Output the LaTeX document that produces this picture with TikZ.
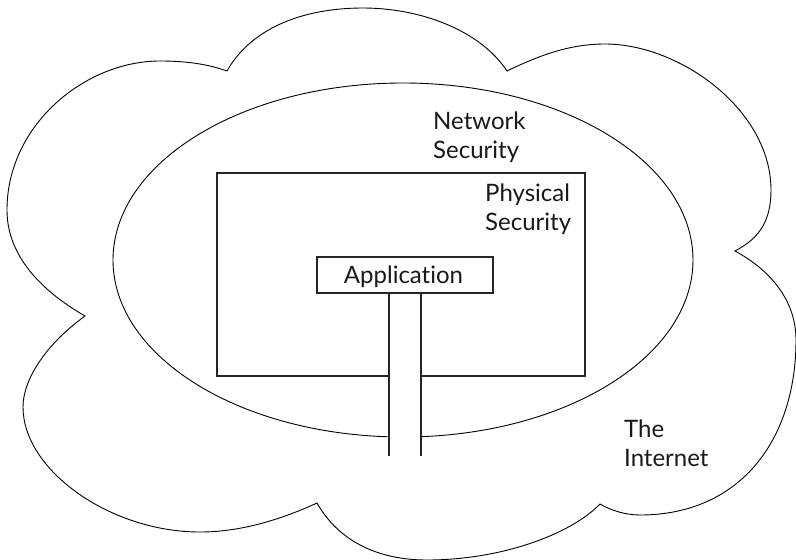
\documentclass[tikz,border=0pt]{standalone}
\usepackage{fontspec}
\setmainfont{Lato}[Ligatures={NoCommon}]
\usetikzlibrary{shapes.geometric}
\begin{document}
\begin{tikzpicture}[x=1pt,y=-1pt,
  outline/.style={draw=black,line width=0.9pt},
  boxline/.style={draw=black!85,line width=1.1pt},
  lbl/.style={font=\fontsize{24}{29}\selectfont,align=left,inner sep=0pt,anchor=base west,text=black!90}]
\useasboundingbox (0,0) rectangle (796,560);
% cloud (The Internet)
\draw[outline] (85,316)
  .. controls (40,290) and (7,255) .. (7,210)
  .. controls (7,125) and (85,61) .. (160,61)
  .. controls (190,61) and (210,65) .. (227,71)
  .. controls (250,30) and (300,8) .. (363,8)
  .. controls (420,8) and (480,30) .. (507,71)
  .. controls (540,55) and (570,44) .. (605,44)
  .. controls (680,44) and (771,110) .. (771,190)
  .. controls (771,220) and (760,238) .. (735,251)
  .. controls (770,270) and (796,300) .. (796,340)
  .. controls (796,440) and (740,515) .. (640,515)
  .. controls (625,515) and (610,510) .. (600,504)
  .. controls (570,535) and (500,560) .. (427,560)
  .. controls (370,560) and (335,535) .. (317,503)
  .. controls (280,520) and (240,532) .. (200,532)
  .. controls (110,532) and (23,470) .. (23,407)
  .. controls (23,380) and (45,345) .. (85,316) -- cycle;
% network security ellipse
\node[outline,ellipse,minimum width=580pt,minimum height=354pt,inner sep=0pt] (net) at (403,260) {};
% physical security rectangle
\node[boxline,rectangle,minimum width=368pt,minimum height=203pt,inner sep=0pt] (phys) at (401,274.5) {};
% application stem
\coordinate (stemL) at (389,456);
\coordinate (stemR) at (421,456);
\fill[white] (389,293) rectangle (421,458);
% application box
\node[boxline,rectangle,minimum width=176pt,minimum height=36pt,inner sep=0pt,fill=white] (app) at (405,275) {};
\node[lbl,anchor=base] (apptxt) at (403.5,283) {Application};
\draw[boxline] (app.south west -| stemL) -- (stemL);
\draw[boxline] (app.south west -| stemR) -- (stemR);
% labels (anchored at the baseline of the last line)
\node[lbl] (nettxt) at (433,158) {Network\\Security};
\node[lbl] (phystxt) at (485,230) {Physical\\Security};
\node[lbl] (inettxt) at (624,466) {The\\Internet};
\end{tikzpicture}
\end{document}
